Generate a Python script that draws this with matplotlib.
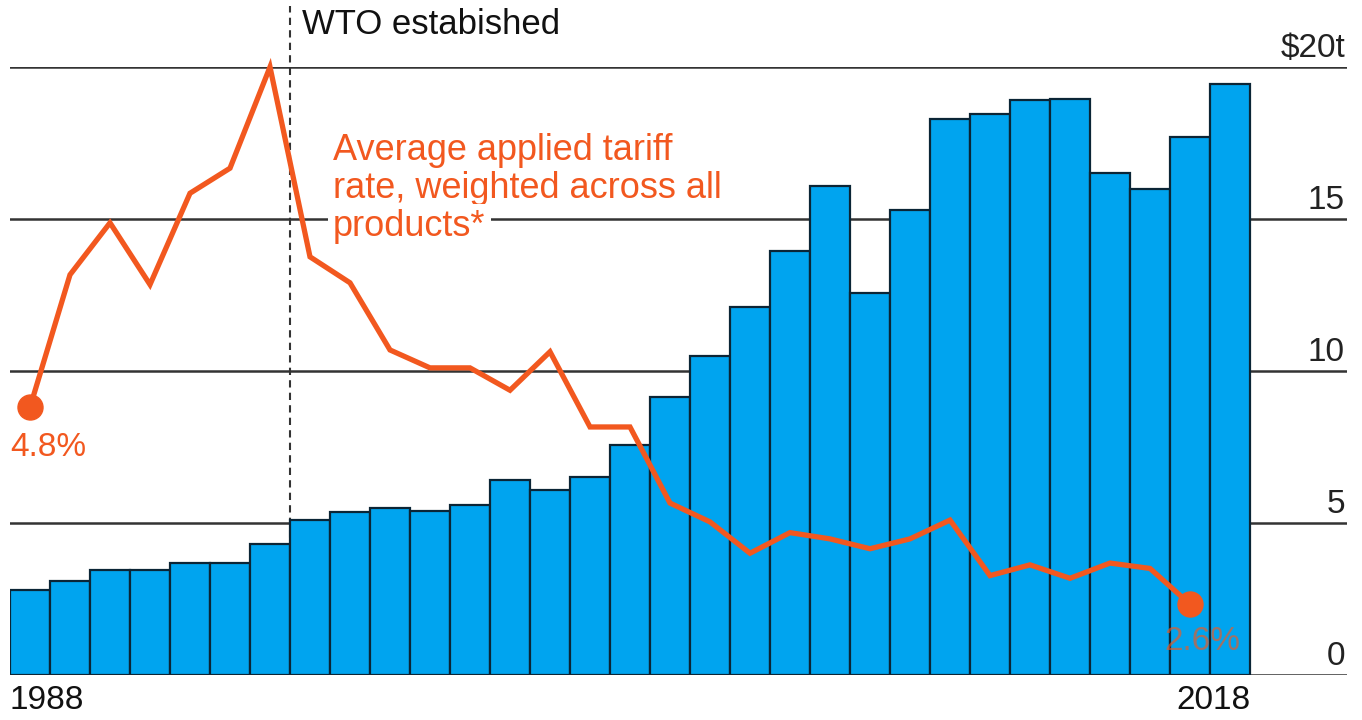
import matplotlib
matplotlib.use("Agg")
import matplotlib.pyplot as plt
import numpy as np

plt.rcParams["font.family"] = ["Liberation Sans", "DejaVu Sans"]

# imports value, $ trillions, 1988-2018
years = list(range(1988, 2019))
imports = [2.8, 3.1, 3.45, 3.45, 3.7, 3.7, 4.3, 5.1, 5.35, 5.5, 5.4, 5.6, 6.4, 6.1,
           6.5, 7.55, 9.15, 10.5, 12.1, 13.95, 16.1, 12.55, 15.3, 18.3, 18.45, 18.9,
           18.95, 16.5, 16.0, 17.7, 19.45]
# weighted average applied tariff rate, %, 1988-2017
tariff = [4.8, 6.28, 6.86, 6.17, 7.19, 7.47, 8.6, 6.48, 6.19, 5.44, 5.24, 5.24, 4.99,
          5.42, 4.58, 4.58, 3.73, 3.52, 3.17, 3.40, 3.33, 3.22, 3.33, 3.54, 2.92,
          3.04, 2.89, 3.06, 3.0, 2.6]
yticks = [0, 5, 10, 15, 20]
ytick_labels = ["0", "5", "10", "15", "$20t"]
note_lines = ["Average applied tariff", "rate, weighted across all", "products*"]

blue = "#00a4ef"
orange = "#f2581f"
dark = "#333333"

fig = plt.figure(figsize=(13.62, 7.2), dpi=100)
W, H = 1362, 720
ax = fig.add_axes([10 / W, 45 / H, (1347 - 10) / W, (675 - 67) / H])

x = np.arange(len(years))
ax.bar(x, imports, width=1.0, color=blue, edgecolor="#0b2536", linewidth=1.6, zorder=3)
ax.set_xlim(-0.5, 32.925)
ax.set_ylim(0, 20)

for v, lab in zip(yticks, ytick_labels):
    ax.axhline(v, color=dark, lw=1.8, zorder=1)
    ax.text(0.9985, v + 0.34, lab, transform=ax.get_yaxis_transform(),
            ha="right", va="baseline", fontsize=24, color="#222222")

for s in ax.spines.values():
    s.set_visible(False)
ax.set_xticks([])
ax.set_yticks([])

# WTO marker
ax.plot([6.5, 6.5], [0, 22], ls=(0, (3.5, 2.5)), color=dark, lw=1.5, zorder=2, clip_on=False)
ax.text(6.8, 21.4, "WTO estabished", fontsize=25, color="#111111", va="center", ha="left")

# year labels
ax.text(-0.5, -0.85, str(years[0]), fontsize=24, ha="left", va="center", color="#111111")
ax.text(30.5, -0.85, str(years[-1]), fontsize=24, ha="right", va="center", color="#111111")

# tariff line on its own scale
ax2 = ax.twinx()
ax2.set_ylim(1.81, 8.60)
ax2.axis("off")
ax2.plot(x[:len(tariff)], tariff, color=orange, lw=3.8, zorder=5, clip_on=False,
         solid_joinstyle="miter")
ax2.plot([x[0], x[len(tariff) - 1]], [tariff[0], tariff[-1]], "o", color=orange,
         ms=18, zorder=6, clip_on=False)

ax.text(-0.5, 7.5, "4.8%", fontsize=24, color=orange, ha="left", va="center", zorder=7)
ax.text(29.3, 1.1, "2.6%", fontsize=24, color=orange, alpha=0.65, ha="center",
        va="center", zorder=7)
for i, line in enumerate(note_lines):
    bb = dict(facecolor="white", edgecolor="none", pad=4) if i == 2 else None
    ax.text(7.575, 16.94 - 1.25 * i, line, fontsize=26, color=orange, ha="left",
            va="baseline", zorder=4, bbox=bb)

fig.savefig("out.png", dpi=100)
